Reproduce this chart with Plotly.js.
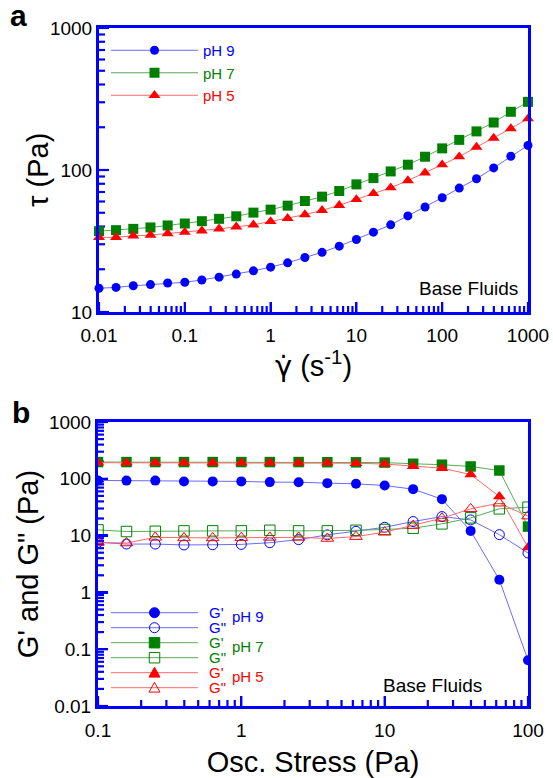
<!DOCTYPE html>
<html>
<head>
<meta charset="utf-8">
<script src="https://cdn.plot.ly/plotly-3.0.1.min.js"></script>
<style>html,body{margin:0;padding:0;background:#fff;}</style>
</head>
<body>
<div id="chart" style="width:553px;height:778px;"></div>
<script>
// ---------- Panel a: shear stress vs shear rate ----------
const shearRate = [0.01, 0.0158, 0.0251, 0.0398, 0.0631, 0.1, 0.158, 0.251, 0.398, 0.631,
                   1, 1.58, 2.51, 3.98, 6.31, 10, 15.8, 25.1, 39.8, 63.1,
                   100, 158, 251, 398, 631, 1000];
const tauPH9 = [14.7, 14.9, 15.3, 15.6, 16.0, 16.2, 16.8, 17.6, 18.5, 19.5,
                20.7, 22.2, 24.2, 26.3, 29.1, 32.4, 36.5, 41.1, 47.5, 54.9,
                63.8, 74.6, 86.7, 103.5, 125, 149];
const tauPH7 = [37.1, 37.7, 38.5, 39.4, 40.7, 42.0, 43.6, 45.3, 47.2, 50.1,
                52.6, 56.1, 60.5, 64.9, 71.1, 79.2, 87.7, 97.7, 109, 124,
                142, 163, 187, 216, 257, 302];
const tauPH5 = [33.5, 33.6, 34.4, 34.8, 35.7, 36.5, 37.3, 38.5, 39.8, 41.1,
                43.4, 45.7, 48.5, 52.0, 56.4, 62.1, 68.4, 75.0, 84.3, 95.5,
                109, 124, 145, 168, 196, 230];

// ---------- Panel b: G' and G'' vs oscillatory stress ----------
const oscStress = [0.1, 0.158, 0.251, 0.398, 0.631, 1, 1.58, 2.51, 3.98, 6.31,
                   10, 15.8, 25.1, 39.8, 63.1, 100];
const gp_pH9  = [93.5, 93, 93, 89.8, 90, 90, 87.4, 87, 83.9, 81.6, 76.2, 65.7, 43.8, 12.1, 1.67, 0.064];
const gpp_pH9 = [7.6, 7.1, 7.1, 6.85, 6.9, 7.0, 7.5, 8.5, 10.3, 11.9, 14.0, 17.7, 21.6, 18.9, 10.4, 4.95];
const gp_pH7  = [197, 197, 197, 197, 197, 197, 197, 197, 196, 195, 193, 184, 177, 165, 140, 14.4];
const gpp_pH7 = [12.6, 11.8, 11.9, 12.1, 12.1, 12.1, 12.4, 12.1, 12.1, 12.4, 12.8, 13.5, 16.1, 20.5, 29.6, 31.6];
const gp_pH5  = [192, 192, 192, 192, 192, 192, 192, 192, 191, 188, 182, 167, 154, 119, 48.8, 6.2];
const gpp_pH5 = [7.6, 7.4, 9.3, 9.1, 9.1, 9.2, 9.3, 9.3, 8.9, 9.6, 11.5, 15.0, 20.2, 29.6, 37.2, 22];

// ---------- tick labels & legend texts ----------
const aXTickVals = [0.01, 0.1, 1, 10, 100, 1000];
const aXTickText = ['0.01', '0.1', '1', '10', '100', '1000'];
const aYTickVals = [10, 100, 1000];
const aYTickText = ['10', '100', '1000'];
const bXTickVals = [0.1, 1, 10, 100];
const bXTickText = ['0.1', '1', '10', '100'];
const bYTickVals = [0.01, 0.1, 1, 10, 100, 1000];
const bYTickText = ['0.01', '0.1', '1', '10', '100', '1000'];

const pHLabels = ['pH 9', 'pH 7', 'pH 5'];
const modLabels = ["G'", 'G"'];

const BLUE = '#0000ff', GREEN = '#008000', RED = '#ff0000';
const BLUE_L = '#6a6aff', GREEN_L = '#5aaa5a', RED_L = '#ff6a6a';
const FONT = 'Liberation Sans, Arial, sans-serif';

function colored(txt, c) { return '<span style="color:' + c + '">' + txt + '</span>'; }

// minor log tick positions (2..9 in every decade)
function minorTicks(lo, hi) {
  const out = [];
  for (let d = lo; d < hi; d++) for (let m = 2; m <= 9; m++) out.push(m * Math.pow(10, d));
  return out;
}

const tracesA = [
  {x: shearRate, y: tauPH9, name: colored(pHLabels[0], BLUE), legendgroup: 'a9',
   line: {color: BLUE_L, width: 1}, marker: {symbol: 'circle', size: 9, color: BLUE}},
  {x: shearRate, y: tauPH7, name: colored(pHLabels[1], GREEN), legendgroup: 'a7',
   line: {color: GREEN_L, width: 1}, marker: {symbol: 'square', size: 10, color: GREEN}},
  {x: shearRate, y: tauPH5, name: colored(pHLabels[2], RED), legendgroup: 'a5',
   line: {color: RED_L, width: 1}, marker: {symbol: 'triangle-up', size: 10.5, color: RED}}
].map(t => Object.assign({xaxis: 'x', yaxis: 'y', mode: 'lines+markers', legend: 'legend', cliponaxis: false}, t));

const tracesB = [
  {y: gp_pH9,  name: modLabels[0], line: {color: BLUE_L, width: 1},  marker: {symbol: 'circle', size: 10, color: BLUE}},
  {y: gpp_pH9, name: modLabels[1], line: {color: BLUE_L, width: 1},  marker: {symbol: 'circle-open', size: 10, color: BLUE, line: {width: 1}}},
  {y: gp_pH7,  name: modLabels[0], line: {color: GREEN_L, width: 1}, marker: {symbol: 'square', size: 10.5, color: GREEN}},
  {y: gpp_pH7, name: modLabels[1], line: {color: GREEN_L, width: 1}, marker: {symbol: 'square-open', size: 10.5, color: GREEN, line: {width: 1}}},
  {y: gp_pH5,  name: modLabels[0], line: {color: RED_L, width: 1},   marker: {symbol: 'triangle-up', size: 11, color: RED}},
  {y: gpp_pH5, name: modLabels[1], line: {color: RED_L, width: 1},   marker: {symbol: 'triangle-up-open', size: 11, color: RED, line: {width: 1}}}
].map(t => Object.assign({x: oscStress, xaxis: 'x2', yaxis: 'y2', mode: 'lines+markers', showlegend: false, cliponaxis: true}, t));

// ---------- layout geometry (plot area: 98..528 px wide, 28..706 px tall) ----------
const PL = 98, PW = 430, PB = 706, PH = 678;
const px = v => (v - PL) / PW;
const py = v => (PB - v) / PH;
const aXRange = [-2, 3], aYRange = [1, 3], bXRange = [-1, 2], bYRange = [-2, 3];
const A_TOP = 28, A_BOT = 312, A_LEFT = 99, B_TOP = 422, B_BOT = 706, B_LEFT = 98, RIGHT = 528;

// inward tick marks drawn as short line traces on each panel's own log axes
const MAJOR_LEN = 10, MINOR_LEN = 6, TICK_W = 2.2;
function xTickTrace(xa, ya, vals, len, yRange, pxPerDec) {
  const xs = [], ys = [];
  const y0 = Math.pow(10, yRange[0]), y1 = Math.pow(10, yRange[0] + len / pxPerDec);
  vals.forEach(v => { xs.push(v, v, null); ys.push(y0, y1, null); });
  return {x: xs, y: ys, xaxis: xa, yaxis: ya, mode: 'lines', line: {color: BLUE, width: TICK_W},
          showlegend: false, hoverinfo: 'skip'};
}
function yTickTrace(xa, ya, vals, len, xRange, pxPerDec) {
  const xs = [], ys = [];
  const x0 = Math.pow(10, xRange[0]), x1 = Math.pow(10, xRange[0] + len / pxPerDec);
  vals.forEach(v => { xs.push(x0, x1, null); ys.push(v, v, null); });
  return {x: xs, y: ys, xaxis: xa, yaxis: ya, mode: 'lines', line: {color: BLUE, width: TICK_W},
          showlegend: false, hoverinfo: 'skip'};
}
const aPxX = (RIGHT - A_LEFT) / (aXRange[1] - aXRange[0]), aPxY = (A_BOT - A_TOP) / (aYRange[1] - aYRange[0]);
const bPxX = (RIGHT - B_LEFT) / (bXRange[1] - bXRange[0]), bPxY = (B_BOT - B_TOP) / (bYRange[1] - bYRange[0]);
const tickTraces = [
  xTickTrace('x', 'y', aXTickVals, MAJOR_LEN, aYRange, aPxY),
  xTickTrace('x', 'y', minorTicks(aXRange[0], aXRange[1]), MINOR_LEN, aYRange, aPxY),
  yTickTrace('x', 'y', aYTickVals, MAJOR_LEN, aXRange, aPxX),
  yTickTrace('x', 'y', minorTicks(aYRange[0], aYRange[1]), MINOR_LEN, aXRange, aPxX),
  xTickTrace('x2', 'y2', bXTickVals, MAJOR_LEN, bYRange, bPxY),
  xTickTrace('x2', 'y2', minorTicks(bXRange[0], bXRange[1]), MINOR_LEN, bYRange, bPxY),
  yTickTrace('x2', 'y2', bYTickVals, MAJOR_LEN, bXRange, bPxX),
  yTickTrace('x2', 'y2', minorTicks(bYRange[0], bYRange[1]), MINOR_LEN, bXRange, bPxX)
];

function axisBase(extra) {
  return Object.assign({
    type: 'log', showline: true, linecolor: BLUE, linewidth: 3, mirror: true,
    ticks: 'inside', ticklen: MAJOR_LEN, tickwidth: TICK_W, tickcolor: BLUE,
    showgrid: false, zeroline: false, tickmode: 'array',
    tickfont: {family: FONT, size: 19, color: '#000'},
    fixedrange: true
  }, extra);
}

const shapes = [];
const annotations = [];

// Hand-drawn legend for panel b (Plotly's legend rows cannot be packed this tightly)
const legRow0 = 612.7, legRowGap = 15;
const legLineX0 = 111, legLineX1 = 198, legMarkX = 154.5, legTextX = 207, legPhX = 230;
tracesB.forEach((t, i) => {
  const yy = py(legRow0 + i * legRowGap);
  const col = t.marker.color;
  shapes.push({type: 'line', xref: 'paper', yref: 'paper', x0: px(legLineX0), x1: px(legLineX1), y0: yy, y1: yy,
               line: {color: t.line.color, width: 1}});
  const open = t.marker.symbol.indexOf('open') >= 0;
  const base = {xref: 'paper', yref: 'paper', xsizemode: 'pixel', ysizemode: 'pixel',
                xanchor: px(legMarkX), yanchor: yy, line: {color: col, width: 1},
                fillcolor: open ? 'rgba(255,255,255,0)' : col};
  const r = t.marker.size / 2;
  if (t.marker.symbol.startsWith('circle')) {
    shapes.push(Object.assign({type: 'circle', x0: -r, x1: r, y0: -r, y1: r}, base));
  } else if (t.marker.symbol.startsWith('square')) {
    shapes.push(Object.assign({type: 'rect', x0: -r, x1: r, y0: -r, y1: r}, base));
  } else {
    shapes.push(Object.assign({type: 'path', path: 'M' + (-r) + ',' + (-0.8 * r) + ' L' + r + ',' + (-0.8 * r) + ' L0,' + r + ' Z'}, base));
  }
  annotations.push({xref: 'paper', yref: 'paper', x: px(legTextX), y: yy, xanchor: 'left', yanchor: 'middle',
                    showarrow: false, text: t.name, font: {family: FONT, size: 15, color: col}});
  if (i % 2 === 0) {
    annotations.push({xref: 'paper', yref: 'paper', x: px(legPhX), y: py(legRow0 + i * legRowGap + 3.5), xanchor: 'left', yanchor: 'middle',
                      showarrow: false, text: pHLabels[i / 2], font: {family: FONT, size: 15, color: col}});
  }
});

annotations.push(
  {xref: 'paper', yref: 'paper', x: px(18), y: py(15), xanchor: 'center', yanchor: 'middle', showarrow: false,
   text: '<b>a</b>', font: {family: FONT, size: 30, color: '#000'}},
  {xref: 'paper', yref: 'paper', x: px(21), y: py(413), xanchor: 'center', yanchor: 'middle', showarrow: false,
   text: '<b>b</b>', font: {family: FONT, size: 30, color: '#000'}},
  {xref: 'paper', yref: 'paper', x: px(520), y: py(288), xanchor: 'right', yanchor: 'middle', showarrow: false,
   text: 'Base Fluids', font: {family: FONT, size: 19, color: '#000'}},
  {xref: 'paper', yref: 'paper', x: px(484), y: py(685), xanchor: 'right', yanchor: 'middle', showarrow: false,
   text: 'Base Fluids', font: {family: FONT, size: 19, color: '#000'}},
  {xref: 'paper', yref: 'paper', x: px(38), y: py(170), xanchor: 'center', yanchor: 'middle', showarrow: false,
   textangle: -90, text: 'τ (Pa)', font: {family: FONT, size: 29, color: '#000'}}
);

const layout = {
  width: 553, height: 778,
  paper_bgcolor: '#fff', plot_bgcolor: '#fff',
  margin: {l: PL, r: 553 - PL - PW, t: A_TOP, b: 778 - PB},
  font: {family: FONT, size: 19, color: '#000'},
  showlegend: true,
  xaxis: axisBase({domain: [px(A_LEFT), 1], anchor: 'y', range: aXRange,
    tickvals: aXTickVals, ticktext: aXTickText, ticklabelstandoff: 4,
    title: {text: '<span style="font-family:DejaVu Sans">γ̇</span> (s<sup>-1</sup>)', font: {family: FONT, size: 29}, standoff: 3}}),
  yaxis: axisBase({domain: [py(A_BOT), 1], anchor: 'x', range: aYRange,
    tickvals: aYTickVals, ticktext: aYTickText}),
  xaxis2: axisBase({domain: [0, 1], anchor: 'y2', range: bXRange,
    tickvals: bXTickVals, ticktext: bXTickText, ticklabelstandoff: 5,
    title: {text: 'Osc. Stress (Pa)', font: {family: FONT, size: 29}, standoff: 16}}),
  yaxis2: axisBase({domain: [0, py(B_TOP)], anchor: 'x2', range: bYRange,
    tickvals: bYTickVals, ticktext: bYTickText,
    title: {text: 'G\' and G" (Pa)', font: {family: FONT, size: 29}, standoff: 2}}),
  legend: {x: px(106), y: py(34), xanchor: 'left', yanchor: 'top', bgcolor: 'rgba(0,0,0,0)',
    itemwidth: 87, tracegroupgap: 0, font: {family: FONT, size: 15}, itemclick: false, itemdoubleclick: false},
  shapes: shapes,
  annotations: annotations
};

Plotly.newPlot('chart', tickTraces.concat(tracesA, tracesB), layout, {staticPlot: true, displayModeBar: false});
</script>
</body>
</html>
